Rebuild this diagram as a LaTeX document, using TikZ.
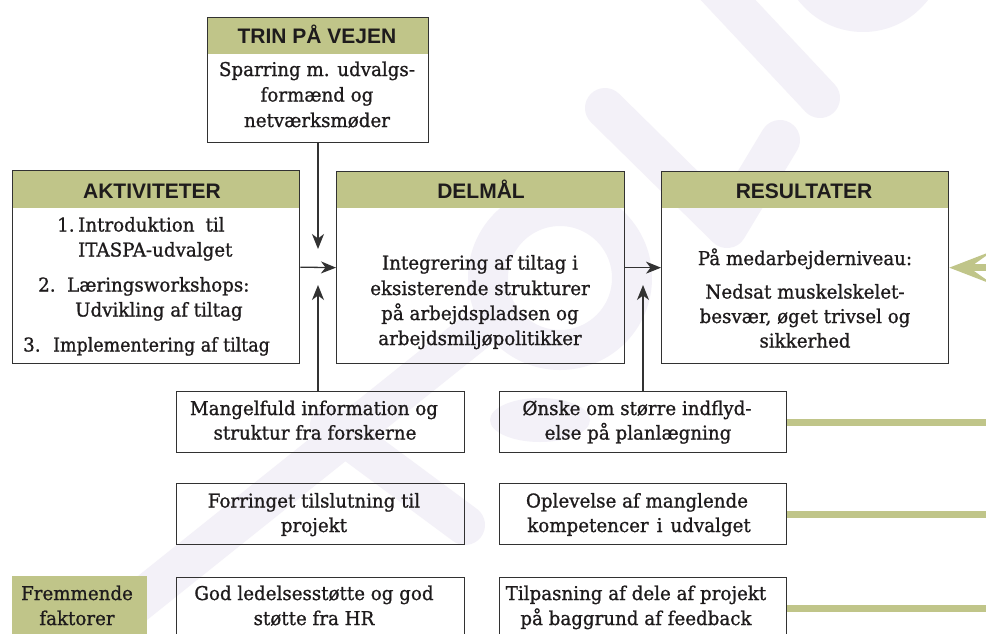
\documentclass[tikz,border=0pt]{standalone}
\usepackage{fontspec}
\setmainfont{DejaVu Serif}
\newfontfamily\bodyfont{DejaVu Serif}[FakeStretch=0.96, FakeBold=1.0]
\newfontfamily\hdrfont{Liberation Sans}
\usetikzlibrary{arrows.meta}
\definecolor{olivec}{RGB}{192,197,137}
\definecolor{wmc}{RGB}{243,241,248}
\definecolor{inkc}{RGB}{30,27,28}
\definecolor{edgec}{RGB}{50,50,50}
\begin{document}
\begin{tikzpicture}[x=1pt,y=-1pt,
  wm/.style={draw=wmc, line width=40pt, line cap=round, line join=round},
  boxframe/.style={draw=edgec, line width=1.3pt, inner sep=0pt, anchor=north west},
  hdrtext/.style={font=\hdrfont\bfseries\fontsize{21}{24}\selectfont, text=inkc, anchor=base, inner sep=0pt},
  bodytext/.style={font=\bodyfont\fontsize{19}{25}\selectfont, text=inkc, anchor=base, inner sep=0pt},
  arr/.style={draw=edgec, line width=1.3pt, -{Stealth[length=15pt,width=12pt,inset=4.5pt]}},
  greenline/.style={draw=olivec, line width=7pt},
]
\useasboundingbox (0,0) rectangle (986,633);
\clip (0,0) rectangle (986,633);
\fill[white] (0,0) rectangle (986,633);

% watermark
\draw[wm] (700,-30) -- (820,98);
\draw[wm] (605,108) -- (727,228) -- (780,140);
\draw[wm] (560,278) circle[radius=72pt];
\draw[wm] (480,328) -- (90,640);
\draw[wm] (330,425) -- (465,525);
\draw[wm] (863,-50) circle[radius=62pt];
\fill[wmc] (540,420) ellipse[x radius=50pt, y radius=22pt];

% header fills
\fill[olivec] (207,17) rectangle (428,54);
\fill[olivec] (12,170) rectangle (299,208);
\fill[olivec] (336,171) rectangle (624,208);
\fill[olivec] (661,171) rectangle (948,208);

% boxes
\node[boxframe, minimum width=221pt, minimum height=125pt] (trin) at (207,17) {};
\node[boxframe, minimum width=287pt, minimum height=193pt] (akt) at (12,170) {};
\node[boxframe, minimum width=288pt, minimum height=192pt] (del) at (336,171) {};
\node[boxframe, minimum width=287pt, minimum height=192pt] (res) at (661,171) {};
\node[boxframe, minimum width=288pt, minimum height=61pt] (mang) at (176,391) {};
\node[boxframe, minimum width=288pt, minimum height=61pt] (forr) at (176,483) {};
\node[boxframe, minimum width=288pt, minimum height=61pt] (god) at (176,577) {};
\node[boxframe, minimum width=287pt, minimum height=61pt] (onsk) at (499,391) {};
\node[boxframe, minimum width=287pt, minimum height=61pt] (ople) at (499,483) {};
\node[boxframe, minimum width=287pt, minimum height=61pt] (tilp) at (499,577) {};
\node[fill=olivec, draw=none, inner sep=0pt, anchor=north west, minimum width=135pt, minimum height=64pt] (frem) at (12,576) {};

% header texts
\node[hdrtext] (htrin) at (317,43) {TRIN PÅ VEJEN};
\node[hdrtext] (hakt) at (152,198) {AKTIVITETER};
\node[hdrtext] (hdel) at (481,198) {DELMÅL};
\node[hdrtext] (hres) at (804,198) {RESULTATER};

% TRIN body
\node[bodytext] (t1) at (317,76) {Sparring m. udvalgs-};
\node[bodytext] (t2) at (317,101.5) {formænd og};
\node[bodytext] (t3) at (317,127) {netværksmøder};

% AKTIVITETER body
\node[bodytext, anchor=base west] (n1) at (57,231.5) {1.};
\node[bodytext, anchor=base west] (a1) at (78,231.5) {Introduktion\hspace{11pt}til};
\node[bodytext, anchor=base west] (a2) at (78,256.5) {ITASPA-udvalget};
\node[bodytext, anchor=base west] (n2) at (38,291.5) {2.};
\node[bodytext, anchor=base west] (a3) at (67,291.5) {Læringsworkshops:};
\node[bodytext, anchor=base west] (a4) at (75,316.5) {Udvikling af tiltag};
\node[bodytext, anchor=base west] (n3) at (23,351.5) {3.};
\node[bodytext, anchor=base west] (a5) at (53,351.5) {\scalebox{0.955}[1]{Implementering af tiltag}};

% DELMAAL body
\node[bodytext] (d1) at (480,269.5) {Integrering af tiltag i};
\node[bodytext] (d2) at (480,295) {eksisterende strukturer};
\node[bodytext] (d3) at (480,320) {på arbejdspladsen og};
\node[bodytext] (d4) at (480,345) {arbejdsmiljøpolitikker};

% RESULTATER body
\node[bodytext] (r1) at (805,265) {På medarbejderniveau:};
\node[bodytext] (r2) at (805,298.5) {Nedsat muskelskelet-};
\node[bodytext] (r3) at (805,323) {besvær, øget trivsel og};
\node[bodytext] (r4) at (805,347.5) {sikkerhed};

% lower boxes text
\node[bodytext] (m1) at (314,415) {Mangelfuld information og};
\node[bodytext] (m2) at (315,439.5) {struktur fra forskerne};
\node[bodytext] (f1) at (314,507.5) {Forringet tilslutning til};
\node[bodytext] (f2) at (314,532) {projekt};
\node[bodytext] (g1) at (314,600) {God ledelsesstøtte og god};
\node[bodytext] (g2) at (314,625) {støtte fra HR};
\node[bodytext] (o1) at (637,415) {Ønske om større indflyd-};
\node[bodytext] (o2) at (638,439.5) {else på planlægning};
\node[bodytext] (p1) at (637,507.5) {Oplevelse af manglende};
\node[bodytext] (p2) at (639,532) {kompetencer\hspace{8pt}i\hspace{8pt}udvalget};
\node[bodytext] (q1) at (636,600) {Tilpasning af dele af projekt};
\node[bodytext] (q2) at (636,625) {på baggrund af feedback};
\node[bodytext] (fr1) at (77,600) {Fremmende};
\node[bodytext] (fr2) at (77,625) {faktorer};

% black arrows
\coordinate (tipA) at (318,249);
\coordinate (tipB) at (318,285);
\coordinate (tipC) at (643,285);
\draw[arr] (trin.south -| tipA) -- (tipA);
\draw[arr] (akt.east) -- (del.west);
\draw[arr] (mang.north -| tipB) -- (tipB);
\draw[arr] (del.east) -- (res.west);
\draw[arr] (onsk.north -| tipC) -- (tipC);

% green lines
\coordinate (gend) at (1000,0);
\coordinate (gstart) at (1030,0);
\draw[greenline] (onsk.east) -- (onsk.east -| gend);
\draw[greenline] (ople.east) -- (ople.east -| gend);
\draw[greenline] (tilp.east) -- (tilp.east -| gend);
\draw[greenline, -{Stealth[length=44pt,width=34pt,inset=24pt,line width=0pt]}] (res.east -| gstart) -- (res.east);
\end{tikzpicture}
\end{document}
